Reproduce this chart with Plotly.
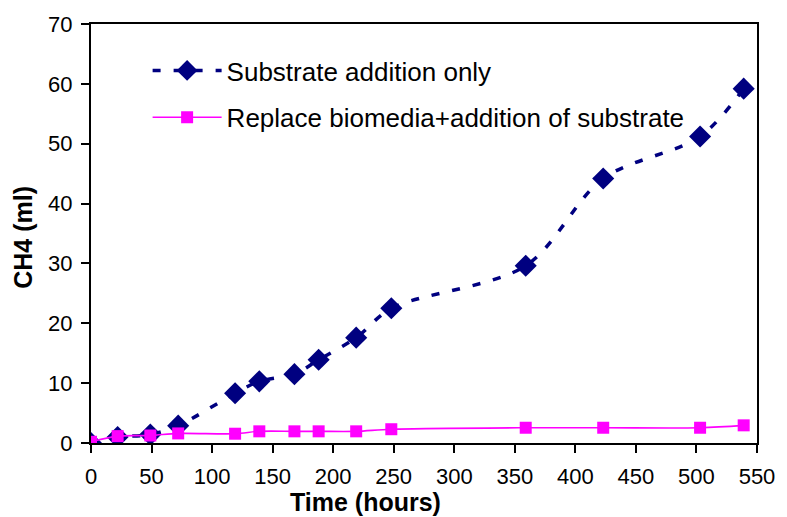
import plotly.graph_objects as go

time_hours = [0, 22, 49, 72, 119, 139, 168, 188, 219, 248, 359, 423, 503, 539]
substrate_only = [0.0, 1.0, 1.4, 2.9, 8.3, 10.3, 11.5, 13.9, 17.6, 22.5, 29.6, 44.2, 51.2, 59.2]
replace_biomedia = [0.2, 1.15, 1.25, 1.6, 1.55, 1.95, 1.95, 1.95, 1.95, 2.3, 2.55, 2.55, 2.55, 2.95]

x_ticks = list(range(0, 551, 50))
y_ticks = list(range(0, 71, 10))

FONT = "Liberation Sans, Arial, sans-serif"

fig = go.Figure()
fig.add_trace(go.Scatter(
    x=time_hours, y=substrate_only, mode="lines+markers",
    name="Substrate addition only", legendgroup="a",
    line=dict(color="#000080", width=3.5, dash="8px,13px", shape="spline", smoothing=0.9),
    marker=dict(symbol="diamond", size=17, color="#000080"),
))
fig.add_trace(go.Scatter(
    x=time_hours, y=replace_biomedia, mode="lines+markers",
    name="Replace biomedia+addition of substrate", legendgroup="b",
    line=dict(color="#FF00FF", width=1.6, shape="spline", smoothing=0.9),
    marker=dict(symbol="square", size=12, color="#FF00FF"),
))

axis_common = dict(
    showline=True, linecolor="black", linewidth=2, mirror=True,
    ticks="outside", ticklen=8, tickwidth=1.5, tickcolor="black",
    showgrid=False, zeroline=False,
    tickfont=dict(family=FONT, size=22, color="black"),
)

fig.update_xaxes(range=[0, 550], tickvals=x_ticks, ticklabelstandoff=5, **axis_common)
fig.update_yaxes(range=[0, 70], tickvals=y_ticks, ticklabelstandoff=4, **axis_common)

fig.update_layout(
    width=787, height=517,
    margin=dict(l=91, r=22, t=21, b=74),
    paper_bgcolor="white", plot_bgcolor="white",
    font=dict(family=FONT, color="black"),
    showlegend=True,
    legend=dict(
        x=0.085, y=0.945, xanchor="left", yanchor="top",
        bgcolor="rgba(0,0,0,0)", borderwidth=0,
        font=dict(family=FONT, size=26, color="black"),
        itemwidth=69, tracegroupgap=10, traceorder="grouped",
    ),
    annotations=[
        dict(text="<b>Time (hours)</b>", xref="paper", yref="paper",
             x=0.412, y=-0.142, xanchor="center", yanchor="middle",
             showarrow=False, font=dict(family=FONT, size=25, color="black")),
        dict(text="<b>CH4 (ml)</b>", xref="paper", yref="paper",
             x=-0.102, y=0.49, xanchor="center", yanchor="middle", textangle=-90,
             showarrow=False, font=dict(family=FONT, size=25, color="black")),
    ],
)

fig.write_html("out.html")
